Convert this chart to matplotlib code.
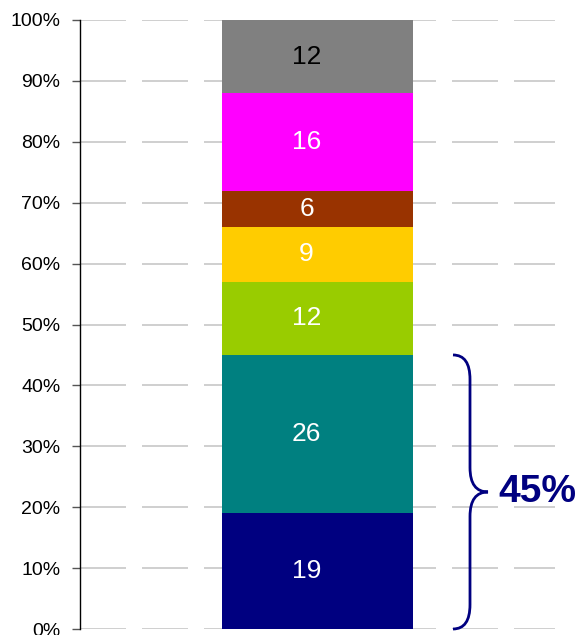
import matplotlib
matplotlib.use("Agg")
import matplotlib.pyplot as plt
from matplotlib.path import Path
from matplotlib.patches import PathPatch

plt.rcParams['font.family'] = ['Liberation Sans', 'DejaVu Sans']

# Data (bottom to top)
values = [19, 26, 12, 9, 6, 16, 12]
colors = ['#000080', '#008080', '#99CC00', '#FFCC00', '#993300', '#FF00FF', '#808080']
label_colors = ['white', 'white', 'white', 'white', 'white', 'white', 'black']
brace_label = '45%'
brace_span = (0, 45)
yticks = list(range(0, 101, 10))

fig = plt.figure(figsize=(5.76, 6.35), dpi=100)
ax = fig.add_axes([80/576, 1 - 629/635, (555-80)/576, (629-20)/635])

total = sum(values)
bottom = 0.0
for v, c, lc in zip(values, colors, label_colors):
    h = v / total * 100
    ax.bar(0, h, bottom=bottom, width=0.402, color=c, zorder=3)
    ax.text(-0.023, bottom + h / 2, str(v), ha='center', va='center',
            fontsize=19, color=lc, zorder=4)
    bottom += h

ax.set_xlim(-0.5, 0.5)
ax.set_ylim(0, 100)
ax.set_yticks(yticks)
ax.set_yticklabels([f'{t}%' for t in yticks], fontsize=14)
ax.set_xticks([])
ax.tick_params(axis='y', length=6, width=1, color='#555555', pad=8)

ax.yaxis.grid(True, color='#cccccc', linewidth=1.3,
              linestyle=(0, (46/1.3*0.72, 16/1.3*0.72)), zorder=0)
ax.set_axisbelow(True)
for s in ['top', 'right', 'bottom']:
    ax.spines[s].set_visible(False)
ax.spines['left'].set_color('black')
ax.spines['left'].set_linewidth(1)

# brace
def px2x(px):
    return (px - 80) / 475 - 0.5

x0, xv, xt = px2x(453), px2x(470), px2x(488)
y0, y1 = brace_span
ym = (y0 + y1) / 2
r = 4.0
verts = [(x0, y1), (xv, y1), (xv, y1 - r),
         (xv, ym + r),
         (xv, ym), (xt, ym),
         (xv, ym), (xv, ym - r),
         (xv, y0 + r),
         (xv, y0), (x0, y0)]
codes = [Path.MOVETO, Path.CURVE3, Path.CURVE3,
         Path.LINETO,
         Path.CURVE3, Path.CURVE3,
         Path.CURVE3, Path.CURVE3,
         Path.LINETO,
         Path.CURVE3, Path.CURVE3]
patch = PathPatch(Path(verts, codes), facecolor='none', edgecolor='#000080',
                  linewidth=2.0, clip_on=False, zorder=5)
ax.add_patch(patch)
ax.text(px2x(498), ym, brace_label, ha='left', va='center', fontsize=28,
        fontweight='bold', color='#000080', clip_on=False)

fig.savefig('out.png', dpi=100)
